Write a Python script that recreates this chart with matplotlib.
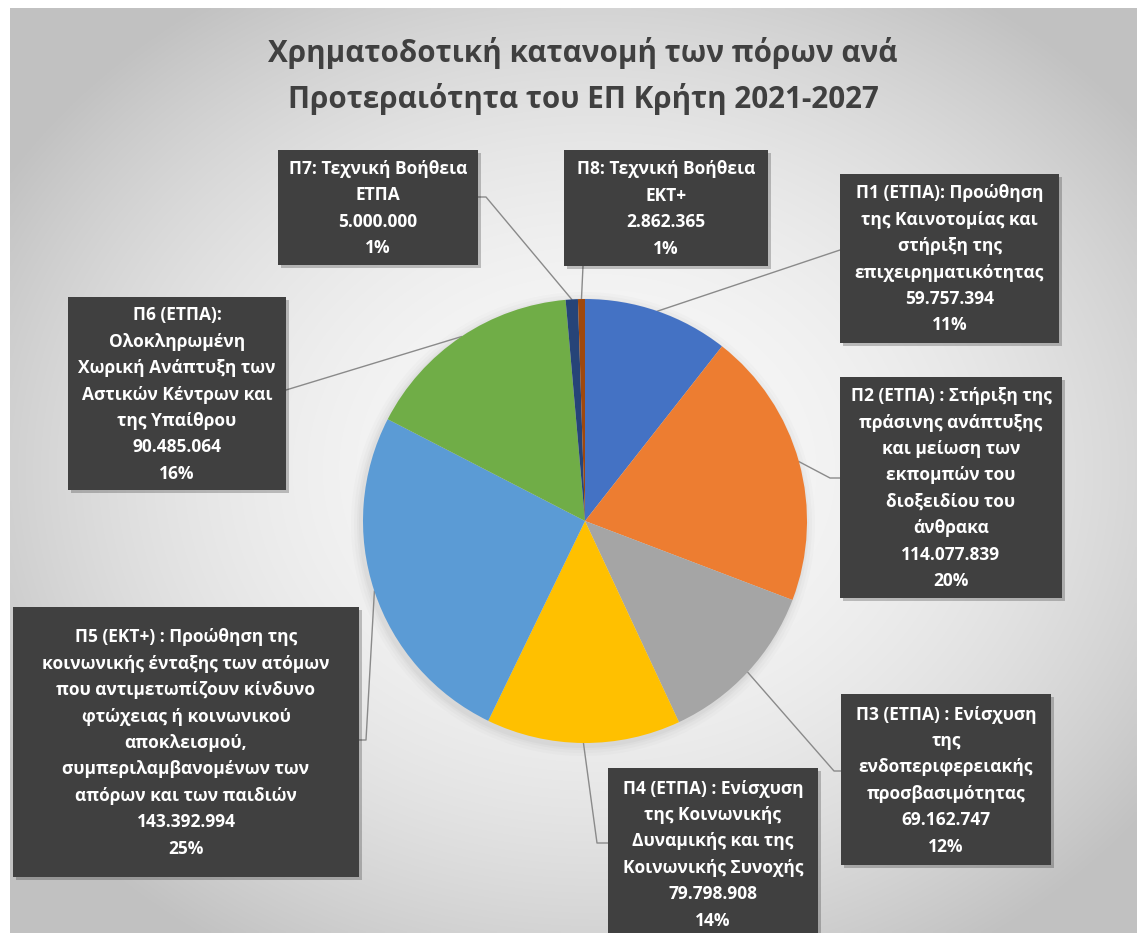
"""Pie chart: funding allocation per priority, ΕΠ Κρήτη 2021-2027."""

import numpy as np
import matplotlib
import matplotlib.pyplot as plt
from matplotlib.patches import Rectangle, Circle

matplotlib.use("Agg")

# ------------------------------------------------------------------ #
# Data
# ------------------------------------------------------------------ #

TITLE = "Χρηματοδοτική κατανομή των πόρων ανά\nΠροτεραιότητα του ΕΠ Κρήτη 2021-2027"

PRIORITIES = [
    "Π1 (ΕΤΠΑ): Προώθηση\nτης Καινοτομίας και\nστήριξη της\nεπιχειρηματικότητας",
    "Π2 (ΕΤΠΑ) : Στήριξη της\nπράσινης ανάπτυξης\nκαι μείωση των\nεκπομπών του\n"
    "διοξειδίου του\nάνθρακα",
    "Π3 (ΕΤΠΑ) : Ενίσχυση\nτης\nενδοπεριφερειακής\nπροσβασιμότητας",
    "Π4 (ΕΤΠΑ) : Ενίσχυση\nτης Κοινωνικής\nΔυναμικής και της\nΚοινωνικής Συνοχής",
    "Π5 (ΕΚΤ+) : Προώθηση της\nκοινωνικής ένταξης των ατόμων\nπου αντιμετωπίζουν κίνδυνο\n"
    "φτώχειας ή κοινωνικού\nαποκλεισμού,\nσυμπεριλαμβανομένων των\nαπόρων και των παιδιών",
    "Π6 (ΕΤΠΑ):\nΟλοκληρωμένη\nΧωρική Ανάπτυξη των\nΑστικών Κέντρων και\nτης Υπαίθρου",
    "Π7: Τεχνική Βοήθεια\nΕΤΠΑ",
    "Π8: Τεχνική Βοήθεια\nΕΚΤ+",
]

AMOUNTS = [59757394, 114077839, 69162747, 79798908,
           143392994, 90485064, 5000000, 2862365]

COLOURS = ["#4472C4", "#ED7D31", "#A5A5A5", "#FFC000",
           "#5B9BD5", "#70AD47", "#264478", "#9E480E"]

# ------------------------------------------------------------------ #
# Layout (pixel coordinates, origin top-left)
# ------------------------------------------------------------------ #

W, H = 1137, 933
PIE_CX, PIE_CY, PIE_R = 585, 521, 222

# label boxes: (x0, y0, x1, y1)
BOXES = [
    (840, 174, 1059, 343),
    (840, 377, 1062, 598),
    (841, 694, 1051, 865),
    (608, 768, 818, 939),
    (13, 607, 359, 877),
    (68, 297, 286, 490),
    (278, 150, 478, 265),
    (564, 150, 768, 266),
]
# where each leader line meets its box, plus optional elbow
LEADER_END = [(840, 250), (840, 478), (841, 771), (608, 843),
              (359, 740), (286, 390), (478, 197), (583, 266)]
LEADER_ELBOW = [None, (830, 478), (834, 771), (597, 843),
                (366, 740), None, (486, 197), None]

BOX_COLOUR = "#404040"
LINE_COLOUR = "#8a8a8a"
FONT = "Open Sans"


def fmt_amount(v: int) -> str:
    return f"{v:,}".replace(",", ".")


fig = plt.figure(figsize=(W / 100, H / 100), dpi=100)
fig.patch.set_facecolor("white")

ax = fig.add_axes([0, 0, 1, 1])
ax.set_xlim(0, W)
ax.set_ylim(H, 0)
ax.axis("off")

# Background radial gradient.
gx, gy = np.meshgrid(np.linspace(0, 1, 300), np.linspace(0, 1, 300))
dist = np.sqrt(((gx - 0.52) / 0.62) ** 2 + ((gy - 0.5) / 0.62) ** 2)
shade = np.clip(0.975 - 0.22 * dist ** 2, 0.76, 1.0)
ax.imshow(np.dstack([shade] * 3), extent=(10, W, H, 8), aspect="auto",
          interpolation="bilinear", zorder=0)

# Soft shadow round the pie.
for k, a in [(10, 0.03), (7, 0.04), (4, 0.05), (2, 0.06)]:
    ax.add_patch(Circle((PIE_CX - 2, PIE_CY + 3), PIE_R + k, color="#808080",
                        alpha=a, lw=0, zorder=1))

# Pie in its own square axes.
ax_pie = fig.add_axes([(PIE_CX - PIE_R) / W, 1 - (PIE_CY + PIE_R) / H,
                       2 * PIE_R / W, 2 * PIE_R / H])
wedges, _ = ax_pie.pie(AMOUNTS, colors=COLOURS, startangle=90, counterclock=False,
                       radius=1.0, wedgeprops=dict(linewidth=0))
ax_pie.set_xlim(-1, 1)
ax_pie.set_ylim(-1, 1)
ax_pie.set_aspect("equal")

total = sum(AMOUNTS)

for i, (w, name, amt) in enumerate(zip(wedges, PRIORITIES, AMOUNTS)):
    # Leader line from wedge midpoint on the rim.
    mid = np.deg2rad((w.theta1 + w.theta2) / 2)
    sx = PIE_CX + PIE_R * np.cos(mid)
    sy = PIE_CY - PIE_R * np.sin(mid)
    pts = [(sx, sy)]
    if LEADER_ELBOW[i] is not None:
        pts.append(LEADER_ELBOW[i])
    pts.append(LEADER_END[i])
    xs, ys = zip(*pts)
    ax.plot(xs, ys, color=LINE_COLOUR, lw=1.0, zorder=2)

    # Label box with shadow.
    x0, y0, x1, y1 = BOXES[i]
    ax.add_patch(Rectangle((x0 + 3, y0 + 3), x1 - x0, y1 - y0, color="black",
                           alpha=0.22, lw=0, zorder=3))
    ax.add_patch(Rectangle((x0, y0), x1 - x0, y1 - y0, color=BOX_COLOUR,
                           lw=0, zorder=4))
    pct = round(100 * amt / total)
    label = f"{name}\n{fmt_amount(amt)}\n{pct}%"
    ax.text((x0 + x1) / 2, (y0 + y1) / 2 + 1, label, ha="center", va="center",
            color="white", fontsize=12.5, fontweight="bold", family=FONT,
            linespacing=1.6, zorder=5)

# Title.
ax.text(583, 76, TITLE, ha="center", va="center", fontsize=21.3,
        fontweight="bold", color="#404040", family=FONT, linespacing=1.55, zorder=5)

fig.savefig("out.png", dpi=100)
